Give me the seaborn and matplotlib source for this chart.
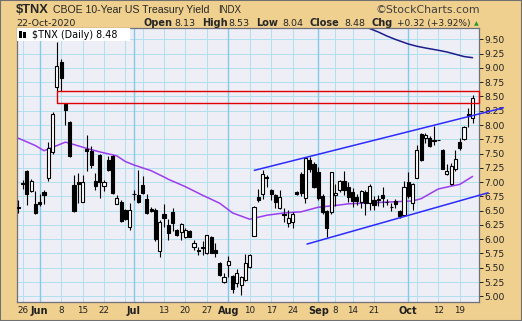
import numpy as np
import pandas as pd
import matplotlib
matplotlib.use("Agg")
import matplotlib.pyplot as plt
import seaborn as sns
from matplotlib.patches import Rectangle

# ---------------- data ----------------
holidays = pd.to_datetime(["2020-05-25", "2020-07-03", "2020-09-07"])
dates = [d for d in pd.bdate_range("2020-05-22", "2020-10-22") if d not in holidays]

opens = [6.56, 6.96, 7.20, 6.85, 6.62, 6.66, 6.83, 7.07, 7.53, 8.66,
         9.11, 8.37, 8.05, 6.95, 7.01, 6.66, 7.58, 7.54, 7.02, 7.48,
         6.93, 7.39, 7.45, 6.62, 6.66, 6.51, 6.22, 6.80, 6.77, 6.95,
         6.71, 6.53, 6.52, 5.80, 6.45, 6.25, 6.48, 6.16, 6.13, 6.04,
         6.15, 5.87, 5.81, 5.87, 5.76, 6.03, 5.81, 5.58, 5.25, 5.55,
         5.35, 5.23, 5.19, 5.29, 5.51, 6.06, 6.74, 6.80, 7.09, 6.86,
         6.77, 6.54, 6.45, 6.28, 6.31, 6.83, 7.14, 6.73, 7.38, 7.31,
         7.17, 6.75, 6.50, 6.48, 6.77, 6.86, 7.02, 6.92, 6.83, 6.74,
         6.65, 6.83, 6.64, 6.69, 6.69, 6.77, 6.66, 6.57, 6.67, 6.49,
         6.43, 7.01, 6.64, 7.08, 7.84, 7.78, 7.78, 7.72, 7.74, 7.57,
         7.15, 6.96, 7.23, 7.70, 7.76, 8.20, 8.13]
highs = [6.69, 7.04, 7.22, 7.06, 6.84, 6.80, 6.86, 7.71, 8.22, 9.46,
         9.16, 8.38, 8.07, 7.13, 7.16, 7.13, 7.83, 7.63, 7.16, 7.50,
         7.04, 7.45, 7.48, 6.78, 6.69, 6.53, 6.63, 6.86, 7.22, 7.11,
         6.79, 6.56, 6.54, 6.33, 6.61, 6.36, 6.55, 6.18, 6.29, 6.19,
         6.16, 5.99, 5.87, 5.96, 6.08, 6.05, 5.94, 5.60, 5.40, 5.71,
         5.37, 5.48, 5.36, 5.74, 5.74, 6.58, 6.88, 7.21, 7.12, 6.88,
         6.79, 6.86, 6.54, 6.51, 6.48, 6.84, 7.18, 7.44, 7.44, 7.36,
         7.26, 6.79, 6.52, 7.18, 6.97, 7.03, 7.20, 7.00, 6.89, 6.80,
         6.87, 6.86, 6.96, 6.75, 6.78, 6.91, 6.71, 6.63, 6.71, 6.51,
         7.02, 7.18, 6.99, 7.65, 7.86, 7.86, 7.80, 7.98, 7.74, 7.58,
         7.31, 7.33, 7.57, 7.77, 7.98, 8.29, 8.53]
lows = [6.46, 6.88, 6.60, 6.83, 6.45, 6.59, 6.62, 7.02, 7.50, 8.59,
        8.60, 8.00, 7.44, 6.47, 6.63, 6.65, 7.19, 7.24, 6.87, 6.72,
        6.85, 7.19, 6.79, 6.61, 6.30, 6.33, 6.16, 6.69, 6.64, 6.80,
        6.45, 6.47, 5.97, 5.69, 6.22, 5.99, 6.15, 6.05, 5.99, 6.02,
        6.03, 5.81, 5.72, 5.72, 5.74, 5.75, 5.69, 5.35, 5.23, 5.34,
        5.05, 5.16, 5.03, 5.26, 5.49, 6.05, 6.65, 6.71, 6.91, 6.68,
        6.54, 6.53, 6.30, 6.22, 6.19, 6.78, 6.75, 6.63, 7.18, 6.90,
        6.68, 6.45, 6.03, 6.44, 6.59, 6.83, 6.77, 6.65, 6.57, 6.60,
        6.55, 6.43, 6.52, 6.52, 6.58, 6.56, 6.60, 6.49, 6.54, 6.38,
        6.40, 6.73, 6.51, 7.07, 7.37, 7.69, 7.61, 7.65, 7.74, 7.23,
        7.13, 6.95, 7.19, 7.57, 7.74, 7.97, 8.04]
closes = [6.55, 6.98, 6.79, 7.02, 6.46, 6.61, 6.78, 7.60, 8.19, 9.03,
          8.82, 8.27, 7.46, 6.49, 6.96, 7.00, 7.54, 7.30, 6.93, 7.01,
          7.01, 7.22, 6.81, 6.72, 6.32, 6.35, 6.51, 6.79, 6.65, 6.81,
          6.46, 6.50, 6.01, 6.31, 6.38, 6.11, 6.28, 6.07, 6.27, 6.17,
          6.04, 5.93, 5.80, 5.84, 6.07, 5.76, 5.76, 5.37, 5.34, 5.61,
          5.12, 5.40, 5.34, 5.59, 5.72, 6.56, 6.68, 7.14, 7.07, 6.79,
          6.65, 6.74, 6.42, 6.38, 6.44, 6.80, 6.81, 7.42, 7.23, 6.92,
          6.73, 6.48, 6.19, 7.17, 6.81, 7.02, 6.87, 6.74, 6.67, 6.67,
          6.85, 6.64, 6.93, 6.60, 6.70, 6.72, 6.65, 6.56, 6.61, 6.41,
          6.91, 6.76, 6.96, 7.57, 7.39, 7.83, 7.63, 7.74, 7.74, 7.23,
          7.20, 7.29, 7.41, 7.59, 7.96, 8.16, 8.48]

# 50-day moving average (purple), read at selected trading-day positions
ma50_pos = [0, 4, 6, 9, 11, 12, 16, 19, 23, 25, 27, 31, 34, 35, 39, 43, 47, 50,
            54, 58, 62, 66, 70, 75, 77, 83, 89, 92, 94, 98, 101, 103, 106]
ma50_val = [7.77, 7.64, 7.55, 7.64, 7.70, 7.68, 7.59, 7.53, 7.46, 7.36, 7.30, 7.20,
            7.09, 7.05, 6.92, 6.77, 6.63, 6.46, 6.35, 6.42, 6.46, 6.48, 6.56, 6.60,
            6.62, 6.64, 6.66, 6.67, 6.71, 6.88, 6.93, 6.96, 7.10]
# 200-day moving average (navy)
ma200_pos = [80, 82, 84, 86, 88, 91, 93, 95, 98, 100, 102, 104, 106]
ma200_val = [9.75, 9.69, 9.63, 9.56, 9.50, 9.42, 9.38, 9.35, 9.31, 9.28, 9.24, 9.20, 9.18]

# trend channel lines (start/end in trading-day position, value)
upper_x = [55.07, 113.2]
upper_y = [7.206, 8.302]
lower_x = [67.37, 109.6]
lower_y = [5.915, 6.813]

# gap box
gap_x0 = 9.1
gap_lo, gap_hi = 8.38, 8.60

tick_dates = ["2020-05-26", "2020-06-01", "2020-06-08", "2020-06-15", "2020-06-22",
              "2020-07-01", "2020-07-13", "2020-07-20", "2020-07-27", "2020-08-03",
              "2020-08-10", "2020-08-17", "2020-08-24", "2020-09-01", "2020-09-08",
              "2020-09-14", "2020-09-21", "2020-10-01", "2020-10-12", "2020-10-19"]
tick_labels = ["26", "Jun", "8", "15", "22", "Jul", "13", "20", "27", "Aug",
               "10", "17", "24", "Sep", "8", "14", "21", "Oct", "12", "19"]
extra_grid_dates = ["2020-06-29", "2020-07-06", "2020-10-05"]
month_names = {"Jun", "Jul", "Aug", "Sep", "Oct"}

y_ticks = np.arange(5.0, 9.51, 0.25)

# ---------------- style ----------------
sns.set_style("white")
plt.rcParams["font.family"] = ["DejaVu Sans"]

W, H = 522, 321
fig = plt.figure(figsize=(W / 100, H / 100), dpi=100, facecolor="#f0d08f")
ax = fig.add_axes([17 / W, 1 - 302 / H, 462 / W, 274 / H])
ax.set_facecolor("#eeeef6")

xs = np.arange(len(dates))
pos_of = {d: i for i, d in enumerate(dates)}
tick_pos = [pos_of[pd.Timestamp(d)] for d in tick_dates]
grid_pos = [pos_of[pd.Timestamp(d)] for d in extra_grid_dates]

xmin, xmax = -0.3, 107.5
ymin, ymax = 4.90, 9.70
ax.set_xlim(xmin, xmax)
ax.set_ylim(ymin, ymax)

# grid
for y in y_ticks:
    ax.axhline(y, color="#b2e0ee", lw=0.7, zorder=0.5)
for p, lab in zip(tick_pos, tick_labels):
    if lab in month_names:
        ax.axvline(p, color="#86c8e8", lw=1.0, zorder=0.6)
    else:
        ax.axvline(p, color="#b2e0ee", lw=0.7, zorder=0.5)
for p in grid_pos:
    ax.axvline(p, color="#b2e0ee", lw=0.7, zorder=0.5)

# moving averages via seaborn
sns.lineplot(x=ma50_pos, y=ma50_val, ax=ax, color="#9b3cf0", linewidth=1.1, zorder=2)
sns.lineplot(x=ma200_pos, y=ma200_val, ax=ax, color="#1c1c8c", linewidth=1.1, zorder=2)

# candles
o = np.array(opens); h = np.array(highs); l = np.array(lows); c = np.array(closes)
ax.vlines(xs, l, h, color="black", lw=0.8, zorder=3)
up = c >= o
body_lo = np.minimum(o, c)
body_h = np.maximum(np.abs(c - o), 0.004)
ax.bar(xs[up], body_h[up], bottom=body_lo[up], width=0.72, color="white",
       edgecolor="black", linewidth=0.8, zorder=4)
ax.bar(xs[~up], body_h[~up], bottom=body_lo[~up], width=0.72, color="black",
       edgecolor="black", linewidth=0.8, zorder=4)

# gap box
ax.add_patch(Rectangle((gap_x0, gap_lo), xmax - gap_x0, gap_hi - gap_lo, fill=False,
                       edgecolor="#e00000", lw=1.0, zorder=5, clip_on=False))

# channel lines
ax.plot(upper_x, upper_y, color="#2b2bff", lw=1.1, zorder=5, clip_on=False)
ax.plot(lower_x, lower_y, color="#2b2bff", lw=1.1, zorder=5, clip_on=False)

# axes cosmetics
for s in ax.spines.values():
    s.set_color("#70707c")
    s.set_linewidth(0.9)
ax.yaxis.tick_right()
ax.set_yticks(y_ticks)
ax.set_yticklabels([f"{v:.2f}" for v in y_ticks])
ax.tick_params(axis="y", length=3, width=0.7, pad=0.8, labelsize=6.6,
               colors="#202020", direction="out")
ax.set_xticks(tick_pos)
ax.set_xticklabels(tick_labels)
ax.tick_params(axis="x", length=0, pad=3.2, labelsize=6.3, colors="#202020")
for t in ax.get_xticklabels():
    if t.get_text() in month_names:
        t.set_fontweight("bold")
        t.set_fontsize(7.0)
ax.set_xlabel("")
ax.set_ylabel("")
ax.grid(False)

# legend box inside plot
def axpt(px, py):
    return ((px - 17) / 462, 1 - (py - 28) / 274)

x0, y0 = axpt(17, 40.5)
ax.add_patch(Rectangle((x0, y0), (130 - 17) / 462, 12.5 / 274, transform=ax.transAxes,
                       facecolor="white", edgecolor="none", zorder=6, clip_on=False))
for cx, top, bot in [(20.5, 31.5, 38), (24.5, 32.5, 37.5)]:
    a, b = axpt(cx - 1.2, bot)
    ax.add_patch(Rectangle((a, b), 2.4 / 462, (bot - top) / 274, transform=ax.transAxes,
                           facecolor="black", edgecolor="none", zorder=7))
tx, ty = axpt(32, 34.5)
ax.text(tx, ty, r"\$TNX (Daily) 8.48", transform=ax.transAxes, fontsize=6.9,
        va="center", ha="left", color="black", zorder=8)

# header texts
def fpt(px, py):
    return (px / W, 1 - py / H)

fig.text(*fpt(16, 13.3), r"\$TNX", fontsize=9.3, fontweight="bold",
         family="Liberation Sans", va="baseline")
fig.text(*fpt(52.7, 13.3), "CBOE 10-Year US Treasury Yield", fontsize=7.6,
         family="Liberation Sans", va="baseline")
fig.text(*fpt(218, 13.3), "INDX", fontsize=7.0, family="Liberation Sans", va="baseline")
fig.text(*fpt(480, 13.3), "©StockCharts.com", fontsize=7.9, color="#404040",
         ha="right", va="baseline")

fig.text(*fpt(16, 26), "22-Oct-2020", fontsize=6.8, va="baseline")
hdr = [(143.3, "Open", True, 7.0), (174.3, "8.13", False, 6.8), (201.7, "High", True, 7.0),
       (228.3, "8.53", False, 6.8), (256, "Low", True, 7.0), (282.7, "8.04", False, 6.8),
       (310, "Close", True, 7.0), (344.3, "8.48", False, 6.8), (371.7, "Chg", True, 7.0),
       (396.7, "+0.32 (+3.92%)", False, 6.5)]
for px, s, bold, fs in hdr:
    fig.text(*fpt(px, 26), s, fontsize=fs, fontweight="bold" if bold else "normal",
             va="baseline")
fig.text(*fpt(476, 25.5), "▲", fontsize=4.5, color="#2a9a2a", ha="center", va="baseline")

# outer border
fig.patches.append(Rectangle((0, 0), 1, 1, transform=fig.transFigure, fill=False,
                             edgecolor="#707070", lw=1.5))

fig.savefig("out.png", dpi=100, facecolor=fig.get_facecolor())
